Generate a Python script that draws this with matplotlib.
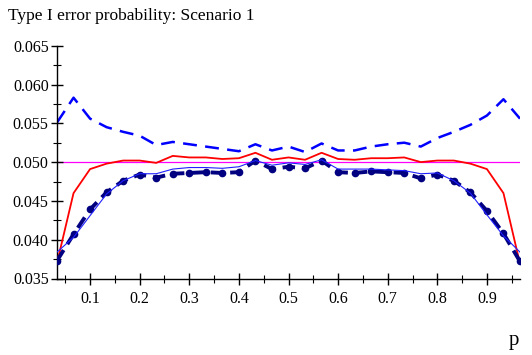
import numpy as np
import matplotlib
matplotlib.use('Agg')
import matplotlib.pyplot as plt
from matplotlib.ticker import MultipleLocator, FixedLocator, FixedFormatter

plt.rcParams['font.family'] = 'Liberation Serif'
plt.rcParams['lines.scale_dashes'] = False

# p grid: k/30, k = 1..29
p = np.arange(1, 30) / 30.0

# Series
blue_dashed = [0.0551, 0.0583, 0.0556, 0.0545, 0.0539, 0.0534, 0.0522, 0.0526, 0.0523, 0.0520,
               0.0517, 0.0514, 0.0523, 0.0515, 0.0520, 0.0513, 0.0524, 0.0515, 0.0515, 0.0520,
               0.0523, 0.0525, 0.0520, 0.0531, 0.0539, 0.0548, 0.0560, 0.0581, 0.0556]
red_solid = [0.0370, 0.0460, 0.0491, 0.0498, 0.0502, 0.0502, 0.0499, 0.0508, 0.0506, 0.0506,
             0.0504, 0.0505, 0.0512, 0.0503, 0.0506, 0.0503, 0.0512, 0.0504, 0.0503, 0.0505,
             0.0505, 0.0506, 0.0500, 0.0502, 0.0502, 0.0498, 0.0491, 0.0460, 0.0369]
blue_thin = [0.0384, 0.0403, 0.0431, 0.0459, 0.0476, 0.0485, 0.0485, 0.0491, 0.0493, 0.0493,
             0.0492, 0.0494, 0.0502, 0.0496, 0.0499, 0.0497, 0.0503, 0.0491, 0.0491, 0.0491,
             0.0490, 0.0489, 0.0485, 0.0486, 0.0476, 0.0460, 0.0432, 0.0405, 0.0384]
navy_marked = [0.0373, 0.0407, 0.0439, 0.0461, 0.0476, 0.0484, 0.0480, 0.0485, 0.0486, 0.0487,
               0.0486, 0.0487, 0.0502, 0.0491, 0.0494, 0.0492, 0.0502, 0.0487, 0.0486, 0.0488,
               0.0487, 0.0486, 0.0479, 0.0484, 0.0476, 0.0461, 0.0437, 0.0408, 0.0372]
nominal = 0.05

fig = plt.figure(figsize=(5.32, 3.55), dpi=100)
ax = fig.add_axes([57 / 532, 1 - 278.5 / 355, (520 - 57) / 532, (278.5 - 45.7) / 355])

ax.axhline(nominal, color='#ff00ff', linewidth=0.9, zorder=1)
ax.plot(p, blue_dashed, color='#0000ff', linewidth=1.8, linestyle=(0, (10, 6)), zorder=2)
ax.plot(p, red_solid, color='#ff0000', linewidth=1.3, zorder=3)
ax.plot(p, navy_marked, color='#000080', linewidth=2.8, linestyle=(0, (9, 5)),
        marker='o', markersize=4.5, zorder=4)
ax.plot(p, blue_thin, color='#2020ff', linewidth=0.8, zorder=5)

ax.set_xlim(p[0], p[-1])
ax.set_ylim(0.035, 0.065)

for s in ['top', 'right']:
    ax.spines[s].set_visible(False)
ax.spines['left'].set_linewidth(1.0)
ax.spines['bottom'].set_linewidth(1.0)

ax.xaxis.set_major_locator(FixedLocator([0.1, 0.2, 0.3, 0.4, 0.5, 0.6, 0.7, 0.8, 0.9]))
ax.xaxis.set_major_formatter(FixedFormatter(['0.1', '0.2', '0.3', '0.4', '0.5', '0.6', '0.7', '0.8', '0.9']))
ax.xaxis.set_minor_locator(FixedLocator([0.05, 0.15, 0.25, 0.35, 0.45, 0.55, 0.65, 0.75, 0.85, 0.95]))
ax.yaxis.set_major_locator(MultipleLocator(0.005))
ax.yaxis.set_minor_locator(MultipleLocator(0.0025))
ax.yaxis.set_major_formatter(matplotlib.ticker.FormatStrFormatter('%.3f'))

ax.tick_params(which='major', direction='inout', length=8, width=1.0, labelsize=11.5)
ax.tick_params(axis='x', which='major', pad=5)
ax.tick_params(axis='y', which='major', pad=2)
ax.tick_params(which='minor', direction='inout', length=6, width=0.8)

fig.text(8 / 532, 1 - 16 / 355, 'Type I error probability: Scenario 1', fontsize=12.5,
         ha='left', va='center')
fig.text(514 / 532, 1 - 340 / 355, 'p', fontsize=15, ha='center', va='center')

fig.savefig('out.png', dpi=100)
